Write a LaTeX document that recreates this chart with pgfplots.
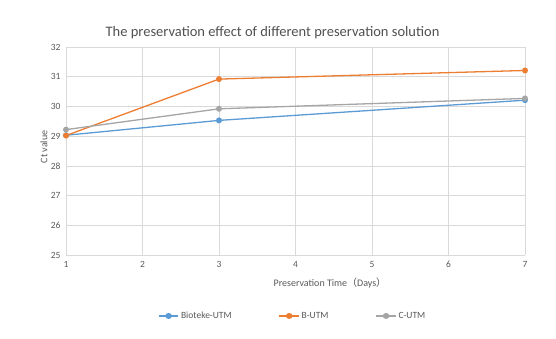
\documentclass[border=0pt]{standalone}
\usepackage{pgfplots}
\pgfplotsset{compat=1.18}
\usepackage{fontspec}
\setmainfont{Carlito}
\newfontfamily\cjk{Noto Sans CJK SC}
\definecolor{cblue}{HTML}{5B9BD5}
\definecolor{corange}{HTML}{ED7D31}
\definecolor{cgray}{HTML}{A5A5A5}
\definecolor{tickc}{HTML}{595959}
\definecolor{gridc}{HTML}{D9D9D9}
\begin{document}
\begin{tikzpicture}[x=1pt,y=1pt]
\useasboundingbox (-66,-84) rectangle (490,255);
\begin{axis}[
  at={(0,0)}, anchor=south west,
  scale only axis, width=459pt, height=208pt,
  xmin=1, xmax=7, ymin=25, ymax=32,
  xtick={1,2,3,4,5,6,7}, ytick={25,26,...,32},
  grid=major, grid style={gridc, line width=0.6pt},
  axis line style={draw=none},
  tick style={draw=none},
  ticklabel style={font=\fontsize{9.5}{10}\selectfont, text=tickc},
  xticklabel style={yshift=-3pt},
  yticklabel style={xshift=-2pt},
  /pgf/number format/assume math mode=true,
  title={The preservation effect of different preservation solution},
  title style={font=\fontsize{14.5}{16}\selectfont, text=tickc!90!black, at={(axis description cs:0.45,1.022)}, anchor=base},
  xlabel={Preservation Time{\cjk（}Days{\cjk）}},
  xlabel style={font=\fontsize{10}{11}\selectfont, text=tickc, at={(axis description cs:0.575,-0.135)}, anchor=center},
  ylabel={Ct value},
  ylabel style={font=\fontsize{10}{11}\selectfont, text=tickc, at={(axis description cs:-0.048,0.52)}, anchor=center, rotate=0},
  legend style={at={(axis description cs:0.494,-0.293)}, anchor=center, draw=none, fill=none,
    legend columns=3, font=\fontsize{9.5}{10}\selectfont, text=tickc,
    /tikz/every even column/.append style={column sep=45pt}},
  legend image post style={xscale=1.15},
  legend cell align=left,
  every axis plot/.append style={line width=1.3pt, mark=*, mark size=2.3pt},
]
\addplot[cblue, mark options={fill=cblue, draw=cblue}] coordinates {(1,29.03) (3,29.53) (7,30.21)};
\addlegendentry{Bioteke-UTM}
\addplot[corange, mark options={fill=corange, draw=corange}] coordinates {(1,29.02) (3,30.92) (7,31.21)};
\addlegendentry{B-UTM}
\addplot[cgray, mark options={fill=cgray, draw=cgray}] coordinates {(1,29.22) (3,29.92) (7,30.27)};
\addlegendentry{C-UTM}
\draw[gridc!80!gray, line width=0.8pt] (axis cs:1,25) -- (axis cs:7,25);
\end{axis}
\end{tikzpicture}
\end{document}
